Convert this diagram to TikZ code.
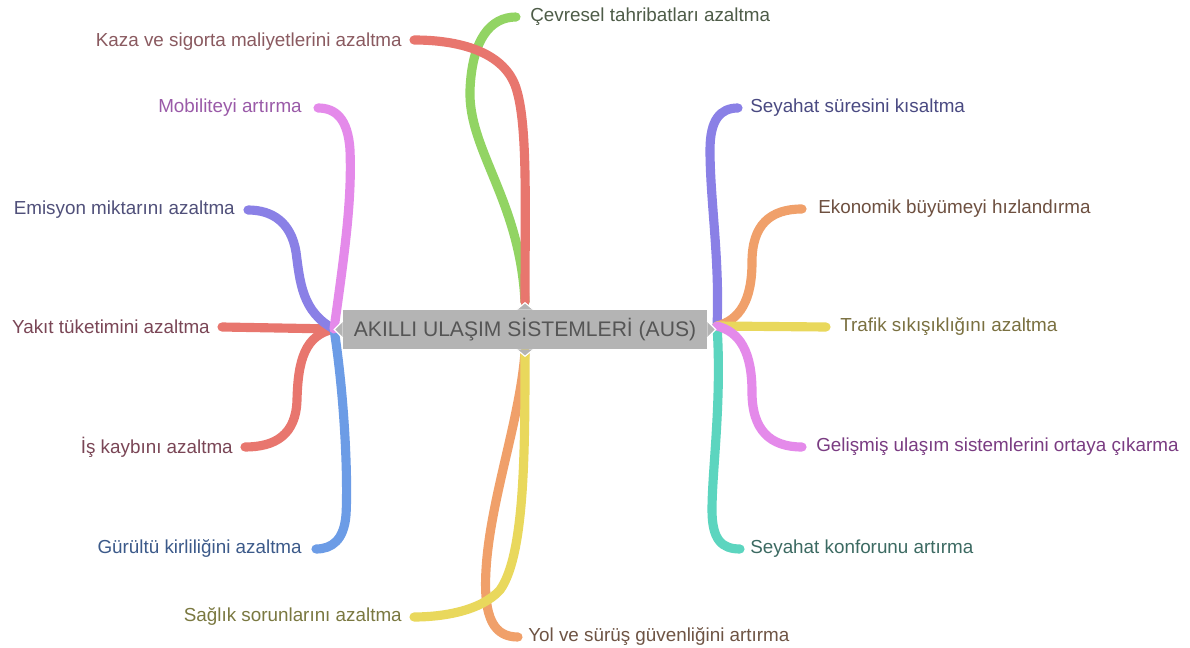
\documentclass[tikz,border=0pt]{standalone}
\usepackage{fontspec}
\setmainfont{Liberation Sans}
\definecolor{cRed}{HTML}{E8766E}
\definecolor{cGreen}{HTML}{92D463}
\definecolor{cPink}{HTML}{E48AEA}
\definecolor{cPurple}{HTML}{8A80E6}
\definecolor{cBlue}{HTML}{6C9CE6}
\definecolor{cOrange}{HTML}{F0A06A}
\definecolor{cYellow}{HTML}{E9D85C}
\definecolor{cTeal}{HTML}{5CD5BF}
\definecolor{cBox}{HTML}{B4B4B4}
\definecolor{tBox}{HTML}{555555}
\definecolor{tRed}{HTML}{8A5A60}
\definecolor{tRed2}{HTML}{7A4656}
\definecolor{tPink}{HTML}{9A5AA8}
\definecolor{tPurple}{HTML}{50507A}
\definecolor{tBlue}{HTML}{3C5A8A}
\definecolor{tYellow}{HTML}{7A7840}
\definecolor{tOrange}{HTML}{6E5444}
\definecolor{tGreen}{HTML}{4E5C48}
\definecolor{tPurple2}{HTML}{4A4A82}
\definecolor{tOrange2}{HTML}{6E5040}
\definecolor{tYellow2}{HTML}{7A7040}
\definecolor{tPink2}{HTML}{7A3C82}
\definecolor{tTeal}{HTML}{3C6A62}
\begin{document}
\begin{tikzpicture}[x=0.025cm,y=-0.025cm,
  br/.style={line width=6.5pt,line cap=round},
  lbl/.style={inner sep=0pt,font=\fontsize{13.4}{15}\selectfont},
  lL/.style={lbl,anchor=east},
  lR/.style={lbl,anchor=west},
  hubmark/.style={fill=cBox,draw=white,line width=0.8pt}]
\useasboundingbox[fill=white] (0,0) rectangle (1190,648);
% hubs
\coordinate (hT) at (525,302);
\coordinate (hB) at (525,352);
\coordinate (hL) at (334,329);
\coordinate (hR) at (717,326);
% end points
\coordinate (eKaza) at (414,40);
\coordinate (eCev) at (516,17);
\coordinate (eSag) at (414,617);
\coordinate (eYol) at (518,637);
\coordinate (eMob) at (318,108);
\coordinate (eEmi) at (248,210);
\coordinate (eYak) at (222,327);
\coordinate (eIs) at (245,447);
\coordinate (eGur) at (316,549);
\coordinate (eSey) at (738,108);
\coordinate (eEko) at (802,209);
\coordinate (eTra) at (826,327);
\coordinate (eGel) at (802,447);
\coordinate (eKon) at (740,549);
% labels
\node[lL,text=tRed] (lKaza) at (402,42) {Kaza ve sigorta maliyetlerini azaltma};
\node[lR,text=tGreen] (lCev) at (530,17) {Çevresel tahribatları azaltma};
\node[lL,text=tYellow] (lSag) at (402,617) {Sağlık sorunlarını azaltma};
\node[lR,text=tOrange] (lYol) at (528,637) {Yol ve sürüş güvenliğini artırma};
\node[lL,text=tPink] (lMob) at (302,108) {Mobiliteyi artırma};
\node[lL,text=tPurple] (lEmi) at (235,210) {Emisyon miktarını azaltma};
\node[lL,text=tRed2] (lYak) at (210,327) {Yakıt tüketimini azaltma};
\node[lL,text=tRed2] (lIs) at (233,447) {İş kaybını azaltma};
\node[lL,text=tBlue] (lGur) at (302,549) {Gürültü kirliliğini azaltma};
\node[lR,text=tPurple2] (lSey) at (750,108) {Seyahat süresini kısaltma};
\node[lR,text=tOrange2] (lEko) at (818,209) {Ekonomik büyümeyi hızlandırma};
\node[lR,text=tYellow2] (lTra) at (840,327) {Trafik sıkışıklığını azaltma};
\node[lR,text=tPink2] (lGel) at (816,447) {Gelişmiş ulaşım sistemlerini ortaya çıkarma};
\node[lR,text=tTeal] (lKon) at (750,549) {Seyahat konforunu artırma};
% top branches
\draw[br,cGreen] (hT) .. controls (520,200) and (468,150) .. (470,90) .. controls (472,40) and (490,17) .. (eCev);
\draw[br,cRed] (hT) .. controls (525,200) and (528,120) .. (515,85) .. controls (502,52) and (460,40) .. (eKaza);
% bottom branches
\draw[br,cOrange] (hB) .. controls (520,420) and (490,500) .. (486,570) .. controls (483,620) and (495,637) .. (eYol);
\draw[br,cYellow] (hB) .. controls (525,450) and (525,555) .. (500,590) .. controls (480,612) and (440,617) .. (eSag);
% left branches
\draw[br,cRed] (hL) -- (eYak);
\draw[br,cRed] (hL) .. controls (305,335) and (298,360) .. (297,400) .. controls (296,435) and (275,447) .. (eIs);
\draw[br,cPurple] (hL) .. controls (302,312) and (300,282) .. (296,252) .. controls (291,222) and (272,210) .. (eEmi);
\draw[br,cBlue] (hL) .. controls (345,400) and (348,480) .. (346,515) .. controls (344,540) and (332,549) .. (eGur);
\draw[br,cPink] (hL) .. controls (345,250) and (352,200) .. (350,150) .. controls (348,118) and (335,108) .. (eMob);
% right branches
\draw[br,cPurple] (hR) .. controls (720,260) and (710,200) .. (710,150) .. controls (710,120) and (720,108) .. (eSey);
\draw[br,cTeal] (hR) .. controls (722,400) and (712,470) .. (712,510) .. controls (712,540) and (722,549) .. (eKon);
\draw[br,cOrange] (hR) .. controls (740,320) and (752,300) .. (752,262) .. controls (752,225) and (770,209) .. (eEko);
\draw[br,cYellow] (hR) -- (eTra);
\draw[br,cPink] (hR) .. controls (740,332) and (752,352) .. (752,392) .. controls (752,430) and (770,447) .. (eGel);
% central node
\node[fill=cBox,text=tBox,minimum width=364*0.025cm,minimum height=39*0.025cm,inner sep=0pt,
  font=\fontsize{15}{17}\selectfont] (c) at (525,329.5) {AKILLI ULAŞIM SİSTEMLERİ (AUS)};
\draw[hubmark] ([xshift=-6pt]c.north) -- ([yshift=5pt]c.north) -- ([xshift=6pt]c.north);
\draw[hubmark] ([xshift=-6pt]c.south) -- ([yshift=-5pt]c.south) -- ([xshift=6pt]c.south);
\draw[hubmark] ([yshift=6pt]c.west) -- ([xshift=-6pt]c.west) -- ([yshift=-6pt]c.west);
\draw[hubmark] ([yshift=6pt]c.east) -- ([xshift=6pt]c.east) -- ([yshift=-6pt]c.east);
\end{tikzpicture}
\end{document}
